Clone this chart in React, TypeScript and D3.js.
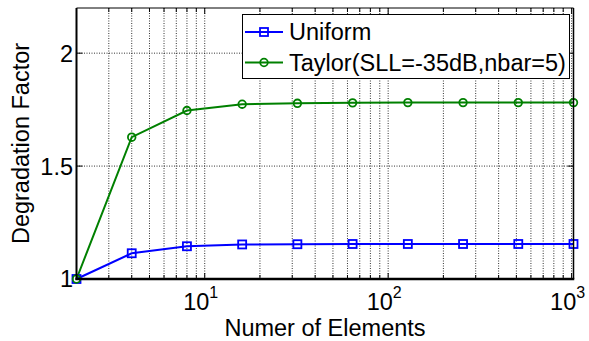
import React from "react";
import * as d3 from "d3";

const elements = [2, 4, 8, 16, 32, 64, 128, 256, 512, 1024];
const uniform = [1, 1.114, 1.145, 1.153, 1.154, 1.155, 1.155, 1.155, 1.155, 1.155];
const taylor = [1, 1.628, 1.746, 1.774, 1.778, 1.780, 1.781, 1.781, 1.781, 1.781];
const yTicks = [1, 1.5, 2];
const yTickLabels = ["1", "1.5", "2"];
const xDecades = [1, 2, 3];
const legendLabels = ["Uniform", "Taylor(SLL=-35dB,nbar=5)"];

const W = 589, H = 341;
const L = 76.5, R = 573.5, T = 8, B = 279;
const FONT = "Liberation Sans, Arial, sans-serif";
const FS = 23.5;

export default function App() {
  const x = d3.scaleLog().domain([2, 1024]).range([L, R]);
  const y = d3.scaleLinear().domain([1, 2.2]).range([B, T]);
  const line = d3.line<number>().x((_, i) => x(elements[i])).y((v) => y(v));

  const minor: number[] = [];
  for (let e = 0; e <= 3; e++) {
    for (let k = 1; k <= 9; k++) {
      const v = k * Math.pow(10, e);
      if (v >= 2 && v <= 1024) minor.push(v);
    }
  }

  return (
    <svg width={W} height={H} style={{ position: "absolute", left: 0, top: 0, background: "#fff" }}>
      <rect x={0} y={0} width={W} height={H} fill="#fff" />
      {/* grid */}
      {minor.map((v) => (
        <line key={"gx" + v} x1={x(v)} x2={x(v)} y1={T} y2={B} stroke="#111" strokeWidth={1} strokeDasharray="1,1.5" opacity={0.85} />
      ))}
      {yTicks.map((v) => (
        <line key={"gy" + v} x1={L} x2={R} y1={y(v)} y2={y(v)} stroke="#111" strokeWidth={1} strokeDasharray="1,1.5" opacity={0.85} />
      ))}
      {/* ticks */}
      {minor.map((v) => {
        const major = [10, 100, 1000].includes(v);
        const len = major ? 6 : 4;
        return (
          <g key={"tx" + v}>
            <line x1={x(v)} x2={x(v)} y1={B} y2={B - len} stroke="#000" strokeWidth={1} />
            <line x1={x(v)} x2={x(v)} y1={T} y2={T + len} stroke="#000" strokeWidth={1} />
          </g>
        );
      })}
      {yTicks.map((v) => (
        <g key={"ty" + v}>
          <line x1={L} x2={L + 6} y1={y(v)} y2={y(v)} stroke="#000" strokeWidth={1} />
          <line x1={R} x2={R - 6} y1={y(v)} y2={y(v)} stroke="#000" strokeWidth={1} />
        </g>
      ))}
      {/* data */}
      <path d={line(uniform) || ""} fill="none" stroke="#0000ff" strokeWidth={2} />
      <path d={line(taylor) || ""} fill="none" stroke="#008000" strokeWidth={2} />
      {uniform.map((v, i) => (
        <rect key={"u" + i} x={x(elements[i]) - 4} y={y(v) - 4} width={8} height={8} fill="none" stroke="#0000ff" strokeWidth={1.8} />
      ))}
      {taylor.map((v, i) => (
        <circle key={"t" + i} cx={x(elements[i])} cy={y(v)} r={3.8} fill="none" stroke="#008000" strokeWidth={1.8} />
      ))}
      {/* box */}
      <line x1={L} x2={R} y1={T} y2={T} stroke="#000" strokeWidth={1} />
      <line x1={R} x2={R} y1={T} y2={B} stroke="#000" strokeWidth={1.5} />
      <line x1={L} x2={L} y1={T} y2={B + 1} stroke="#000" strokeWidth={2} />
      <line x1={L - 1} x2={R + 0.75} y1={B} y2={B} stroke="#000" strokeWidth={2.5} />
      {/* y tick labels */}
      {yTicks.map((v, i) => (
        <text key={"yl" + v} x={73} y={y(v)} dy="0.36em" textAnchor="end" fontFamily={FONT} fontSize={FS} fill="#000">
          {yTickLabels[i]}
        </text>
      ))}
      {/* x tick labels */}
      {xDecades.map((d) => (
        <text key={"xl" + d} x={x(Math.pow(10, d)) - 4} y={310} textAnchor="middle" fontFamily={FONT} fontSize={FS} fill="#000">
          10
          <tspan fontSize={16} dy={-12}>{d}</tspan>
        </text>
      ))}
      {/* axis labels */}
      <text x={(L + R) / 2} y={336} textAnchor="middle" fontFamily={FONT} fontSize={FS} fill="#000">
        Numer of Elements
      </text>
      <text transform={`translate(29,${(T + B) / 2}) rotate(-90)`} textAnchor="middle" fontFamily={FONT} fontSize={FS} fill="#000">
        Degradation Factor
      </text>
      {/* legend */}
      <rect x={242.5} y={14.5} width={327} height={64} fill="#fff" stroke="#000" strokeWidth={1} />
      <line x1={245} x2={283} y1={32} y2={32} stroke="#0000ff" strokeWidth={2} />
      <rect x={260} y={28} width={8} height={8} fill="none" stroke="#0000ff" strokeWidth={1.8} />
      <text x={289} y={32} dy="0.36em" fontFamily={FONT} fontSize={FS} fill="#000">{legendLabels[0]}</text>
      <line x1={245} x2={283} y1={62.5} y2={62.5} stroke="#008000" strokeWidth={2} />
      <circle cx={264} cy={62.5} r={3.8} fill="none" stroke="#008000" strokeWidth={1.8} />
      <text x={289} y={62.5} dy="0.36em" fontFamily={FONT} fontSize={FS} fill="#000">{legendLabels[1]}</text>
    </svg>
  );
}
